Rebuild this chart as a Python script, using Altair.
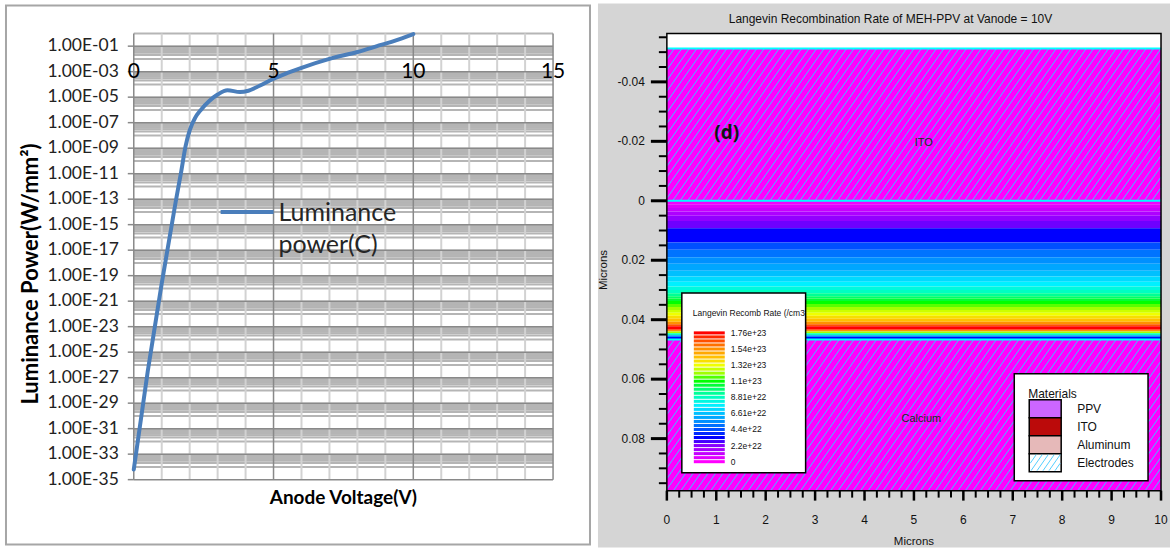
import altair as alt
import numpy as np
import pandas as pd

# ================= LEFT PANEL DATA =================
anode_voltage = [0.0, 0.5, 1.0, 1.5, 1.7, 1.85, 2.0, 2.2, 2.4, 2.7, 3.0, 3.35, 3.8, 4.1,
                 4.5, 5.0, 5.5, 6.0, 7.0, 8.0, 8.7, 9.3, 10.0]
luminance_power = [6.3e-35, 3.2e-27, 2.5e-20, 6.3e-14, 1.6e-11, 1.3e-9, 2.5e-8, 2.5e-7,
                   1.0e-6, 5.0e-6, 1.6e-5, 3.5e-5, 2.5e-5, 3.2e-5, 7.9e-5, 2.8e-4, 7.9e-4,
                   2.0e-3, 1.0e-2, 3.5e-2, 1.0e-1, 2.5e-1, 8.9e-1]
series_label_1 = "Luminance"
series_label_2 = "power(C)"
x_label_values = [0, 5, 10, 15]
x_label_texts = ["0", "5", "10", "15"]
y_major_values = [10.0 ** e for e in range(-1, -36, -2)]
y_label_texts = ["1.00E-%02d" % e for e in range(1, 36, 2)]
y_minor_values = [m * 10.0 ** e for e in range(-35, 0, 2) for m in range(10, 100, 10)
                  if m * 10.0 ** e <= 1.0000001]
x_minor_grid = [v for v in range(0, 16) if v % 5 != 0]
x_major_grid = [0, 5, 10, 15]
left_y_title = "Luminance Power(W/mm²)"
left_x_title = "Anode Voltage(V)"

# ================= RIGHT PANEL DATA =================
ppv_band_top = [0.0000, 0.0012, 0.0024, 0.0036, 0.0050, 0.0068, 0.0092, 0.0140, 0.0165,
                0.0190, 0.0212, 0.0235, 0.0255, 0.0272, 0.0288, 0.0300, 0.0311, 0.0321,
                0.0329, 0.0337, 0.0347, 0.0357, 0.0367, 0.0377, 0.0387, 0.0397, 0.0407,
                0.0415, 0.0422, 0.0434, 0.0440, 0.0446, 0.0452, 0.0458]
ppv_band_rate = [0.2e22, 0.6e22, 1.0e22, 1.5e22, 2.0e22, 2.4e22, 3.3e22, 4.4e22, 5.0e22,
                 5.5e22, 6.0e22, 6.6e22, 7.2e22, 7.7e22, 8.3e22, 8.8e22, 9.4e22, 1.0e23,
                 1.05e23, 1.1e23, 1.16e23, 1.21e23, 1.27e23, 1.32e23, 1.38e23, 1.43e23,
                 1.54e23, 1.65e23, 1.76e23, 1.54e23, 1.21e23, 8.8e22, 5.5e22, 3.3e22]
ppv_bottom = 0.0467
electrode_names = ["ITO", "Calcium"]
electrode_top = [-0.0512, 0.0467]
electrode_bottom = [0.0, 0.0975]
boundary_lines = [-0.0512, 0.0, 0.0467]

rate_stops = [0, 1.1e22, 2.2e22, 3.3e22, 4.4e22, 5.5e22, 6.61e22, 7.7e22, 8.81e22, 9.9e22,
              1.1e23, 1.21e23, 1.32e23, 1.43e23, 1.54e23, 1.65e23, 1.76e23]
rate_colors = ["#ff00ff", "#c400ff", "#8800ff", "#0000ff", "#0050ff", "#0090ff", "#00c0ff",
               "#00f0ff", "#00ffc0", "#00ff70", "#00ff00", "#a0ff00", "#f0ff00", "#ffc000",
               "#ff9000", "#ff5000", "#ff0000"]
cb_label_values = [1.76e23, 1.54e23, 1.32e23, 1.1e23, 8.81e22, 6.61e22, 4.4e22, 2.2e22, 0]
cb_label_texts = ["1.76e+23", "1.54e+23", "1.32e+23", "1.1e+23", "8.81e+22", "6.61e+22",
                  "4.4e+22", "2.2e+22", "0"]
material_names = ["PPV", "ITO", "Aluminum", "Electrodes"]
material_colors = ["#cc66ff", "#bb0a0a", "#e6b9b9", "#ffffff"]
ann_texts = ["ITO", "Calcium"]
ann_x = [5.2, 5.15]
ann_y = [-0.0195, 0.0735]
y_major_right = [-0.04, -0.02, 0, 0.02, 0.04, 0.06, 0.08]
y_major_right_texts = ["-0.04", "-0.02", "0", "0.02", "0.04", "0.06", "0.08"]
x_major_right = list(range(0, 11))
x_major_right_texts = [str(v) for v in x_major_right]
right_title = "Langevin Recombination Rate of MEH-PPV at Vanode = 10V"

# ================= LAYOUT CONSTANTS =================
LW, LH = 420, 447
RW, RH = 495, 458
Y_DOM = [-0.0563, 0.0975]
PXX = RW / 10.0
PXY = RH / (Y_DOM[1] - Y_DOM[0])
one = pd.DataFrame({"k": [0]})
LF = "Lato"
RF = "Liberation Sans"

# ================= LEFT CHART =================
LXs = alt.Scale(domain=[0, 15], nice=False, zero=False)
LYs = alt.Scale(type="log", domain=[1e-35, 1.0], nice=False)

l_frame = alt.Chart(one).mark_rect(fill="white", stroke="#a6a6a6", strokeWidth=2).encode(
    x=alt.value(-128), x2=alt.value(457), y=alt.value(-28), y2=alt.value(512))
l_pad = alt.Chart(one).mark_rect(opacity=0).encode(
    x=alt.value(-100), x2=alt.value(-95), y=alt.value(-30), y2=alt.value(-29))
h_minor = alt.Chart(pd.DataFrame({"v": y_minor_values})).mark_rule(
    color="#b5b5b5", strokeWidth=2).encode(y=alt.Y("v:Q", scale=LYs, axis=None))
v_minor = alt.Chart(pd.DataFrame({"v": x_minor_grid})).mark_rule(
    color="#d2d2d2", strokeWidth=2).encode(x=alt.X("v:Q", scale=LXs, axis=None))
h_major = alt.Chart(pd.DataFrame({"v": y_major_values})).mark_rule(
    color="#898989", strokeWidth=1.5).encode(y=alt.Y("v:Q", scale=LYs, axis=None))
v_major = alt.Chart(pd.DataFrame({"v": x_major_grid})).mark_rule(
    color="#898989", strokeWidth=1.5).encode(x=alt.X("v:Q", scale=LXs, axis=None))
ly_ticks = alt.Chart(pd.DataFrame({"v": y_major_values})).mark_rule(
    color="#898989", strokeWidth=1.5).encode(
    y=alt.Y("v:Q", scale=LYs, axis=None), x=alt.value(-6), x2=alt.value(0))
ly_labels = alt.Chart(pd.DataFrame({"v": y_major_values, "t": y_label_texts})).mark_text(
    font=LF, fontSize=17.5, color="#222222", align="right", baseline="middle").encode(
    y=alt.Y("v:Q", scale=LYs, axis=None), x=alt.value(-15), text="t:N")
ly_title = alt.Chart(one).mark_text(font=LF, fontSize=22, fontWeight="bold", color="black",
                                    angle=270, baseline="middle", text=left_y_title).encode(
    x=alt.value(-103), y=alt.value(241))
lx_title = alt.Chart(one).mark_text(font=LF, fontSize=19, fontWeight="bold", color="black",
                                    baseline="middle", text=left_x_title).encode(
    x=alt.value(LW / 2), y=alt.value(LH + 18))
lum_line = alt.Chart(pd.DataFrame({"V": anode_voltage, "P": luminance_power})).mark_line(
    color="#4a7ebb", strokeWidth=4, interpolate="monotone", strokeCap="round").encode(
    x=alt.X("V:Q", scale=LXs, axis=None), y=alt.Y("P:Q", scale=LYs, axis=None))
x_labels = alt.Chart(pd.DataFrame({"v": x_label_values, "t": x_label_texts})).mark_text(
    font=LF, fontSize=21, color="black", baseline="middle", align="center").encode(
    x=alt.X("v:Q", scale=LXs, axis=None),
    y=alt.YDatum(1e-3, type="quantitative", axis=None), text="t:N")
leg_line = alt.Chart(one).mark_rule(color="#4a7ebb", strokeWidth=4).encode(
    x=alt.value(87), x2=alt.value(140), y=alt.value(179))
leg_t1 = alt.Chart(one).mark_text(font=LF, fontSize=25, color="#262626", align="left",
                                  baseline="middle", text=series_label_1).encode(
    x=alt.value(145), y=alt.value(180))
leg_t2 = alt.Chart(one).mark_text(font=LF, fontSize=25, color="#262626", align="left",
                                  baseline="middle", text=series_label_2).encode(
    x=alt.value(145), y=alt.value(212))

left = alt.layer(l_frame, l_pad, h_minor, v_minor, h_major, v_major, ly_ticks, ly_labels,
                 ly_title, lx_title, lum_line, x_labels, leg_line, leg_t1, leg_t2
                 ).properties(width=LW, height=LH)

# ================= RIGHT CHART =================
RXs = alt.Scale(domain=[0, 10], nice=False, zero=False)
RYs = alt.Scale(domain=Y_DOM, reverse=True, nice=False, zero=False)
RATE = alt.Scale(domain=rate_stops, range=rate_colors, interpolate="rgb")

r_bg = alt.Chart(one).mark_rect(fill="#d5d5d5").encode(
    x=alt.value(-69), x2=alt.value(504), y=alt.value(-30), y2=alt.value(515))
r_white = alt.Chart(one).mark_rect(fill="white").encode(
    x=alt.value(0), x2=alt.value(RW), y=alt.value(0), y2=alt.value(RH))
regions = alt.Chart(pd.DataFrame({"n": electrode_names, "t": electrode_top,
                                  "b": electrode_bottom})).mark_rect(fill="#ff00ff").encode(
    x=alt.value(0), x2=alt.value(RW), y=alt.Y("t:Q", scale=RYs, axis=None), y2="b:Q")
band_bottom = ppv_band_top[1:] + [ppv_bottom]
bands = alt.Chart(pd.DataFrame({"t": ppv_band_top, "b": band_bottom,
                                "rate": ppv_band_rate})).mark_rect().encode(
    x=alt.value(0), x2=alt.value(RW), y=alt.Y("t:Q", scale=RYs, axis=None), y2="b:Q",
    color=alt.Color("rate:Q", scale=RATE, legend=None))


def hatch_segments(y_bottom, y_top, step_px=7.5, slope=0.7):
    h_px = (y_bottom - y_top) * PXY
    run = h_px * slope / PXX
    step = step_px / PXX
    segs = []
    x0 = -run
    while x0 < 10:
        xa, ya, xb, yb = x0, y_bottom, x0 + run, y_top
        if xa < 0:
            t = -x0 / run
            xa, ya = 0.0, y_bottom + t * (y_top - y_bottom)
        if xb > 10:
            t = (10 - x0) / run
            xb, yb = 10.0, y_bottom + t * (y_top - y_bottom)
        segs.append((xa, ya, xb, yb))
        x0 += step
    return segs


hs = []
for top, bot in zip(electrode_top, electrode_bottom):
    hs += hatch_segments(bot, top)
hatch = alt.Chart(pd.DataFrame(hs, columns=["x", "y", "x2", "y2"])).mark_rule(
    color="#3cc4ff", strokeWidth=1).encode(
    x=alt.X("x:Q", scale=RXs, axis=None), y=alt.Y("y:Q", scale=RYs, axis=None),
    x2="x2:Q", y2="y2:Q")
bounds = alt.Chart(pd.DataFrame({"b": boundary_lines})).mark_rule(
    color="#00ffff", strokeWidth=2).encode(y=alt.Y("b:Q", scale=RYs, axis=None))
ann = alt.Chart(pd.DataFrame({"t": ann_texts, "x": ann_x, "y": ann_y})).mark_text(
    font=RF, fontSize=11, color="#222222").encode(
    x=alt.X("x:Q", scale=RXs, axis=None), y=alt.Y("y:Q", scale=RYs, axis=None), text="t:N")
d_label = alt.Chart(one).mark_text(font="Open Sans", fontSize=19, fontWeight="bold",
                                   color="#111111", text="(d)").encode(
    x=alt.value(60), y=alt.value(100))
r_title = alt.Chart(one).mark_text(font=RF, fontSize=12, color="#111111",
                                   text=right_title).encode(x=alt.value(224), y=alt.value(-14))
y_minor_ticks = [round(-0.055 + 0.005 * i, 4) for i in range(31)
                 if abs(round((-0.055 + 0.005 * i) / 0.02) * 0.02 - (-0.055 + 0.005 * i)) > 1e-6]
x_minor_ticks = [i * 0.25 for i in range(41) if i % 4 != 0]
ymt = alt.Chart(pd.DataFrame({"v": y_minor_ticks})).mark_rule(color="black", strokeWidth=2).encode(
    y=alt.Y("v:Q", scale=RYs, axis=None), x=alt.value(-8), x2=alt.value(0))
xmt = alt.Chart(pd.DataFrame({"v": x_minor_ticks})).mark_rule(color="black", strokeWidth=2).encode(
    x=alt.X("v:Q", scale=RXs, axis=None), y=alt.value(RH), y2=alt.value(RH + 7))
yMt = alt.Chart(pd.DataFrame({"v": y_major_right})).mark_rule(color="black", strokeWidth=3).encode(
    y=alt.Y("v:Q", scale=RYs, axis=None), x=alt.value(-16), x2=alt.value(0))
xMt = alt.Chart(pd.DataFrame({"v": x_major_right})).mark_rule(color="black", strokeWidth=2.5).encode(
    x=alt.X("v:Q", scale=RXs, axis=None), y=alt.value(RH), y2=alt.value(RH + 10))
ry_labels = alt.Chart(pd.DataFrame({"v": y_major_right, "t": y_major_right_texts})).mark_text(
    font=RF, fontSize=12, color="#111111", align="right", baseline="middle").encode(
    y=alt.Y("v:Q", scale=RYs, axis=None), x=alt.value(-22), text="t:N")
rx_labels = alt.Chart(pd.DataFrame({"v": x_major_right, "t": x_major_right_texts})).mark_text(
    font=RF, fontSize=12, color="#111111", align="center", baseline="middle").encode(
    x=alt.X("v:Q", scale=RXs, axis=None), y=alt.value(487), text="t:N")
ry_title = alt.Chart(one).mark_text(font=RF, fontSize=11.5, color="#111111", angle=270,
                                    baseline="middle", text="Microns").encode(
    x=alt.value(-63), y=alt.value(237))
rx_title = alt.Chart(one).mark_text(font=RF, fontSize=11.5, color="#111111",
                                    baseline="middle", text="Microns").encode(
    x=alt.value(RW / 2), y=alt.value(509))
r_frame = alt.Chart(one).mark_rect(fillOpacity=0, stroke="black", strokeWidth=1.5).encode(
    x=alt.value(0), x2=alt.value(RW), y=alt.value(0), y2=alt.value(RH))

right_main = alt.layer(r_bg, r_white, regions, bands, hatch, bounds, ann, d_label, r_title,
                       ymt, xmt, yMt, xMt, ry_labels, rx_labels, ry_title, rx_title, r_frame)

# ---- colour bar legend ----
LEG = alt.Scale(domain=[0, 1.76e23], range=[429, 300], nice=False, zero=False)
stripe_levels = np.linspace(0, 1.76e23, 33)
step = stripe_levels[1] - stripe_levels[0]
cb_df = pd.DataFrame({"lvl": stripe_levels, "lo": stripe_levels - 0.38 * step,
                      "hi": stripe_levels + 0.38 * step})
cb_box = alt.Chart(one).mark_rect(fill="white", stroke="black", strokeWidth=1.5).encode(
    x=alt.value(15), x2=alt.value(139), y=alt.value(260), y2=alt.value(440))
cb_title = alt.Chart(one).mark_text(font=RF, fontSize=8.5, color="#111111", align="left",
                                    text="Langevin Recomb Rate (/cm3").encode(
    x=alt.value(26), y=alt.value(280))
cb_stripes = alt.Chart(cb_df).mark_rect().encode(
    x=alt.value(27), x2=alt.value(58), y=alt.Y("lo:Q", scale=LEG, axis=None), y2="hi:Q",
    color=alt.Color("lvl:Q", scale=RATE, legend=None))
cb_labels = alt.Chart(pd.DataFrame({"v": cb_label_values, "t": cb_label_texts})).mark_text(
    font=RF, fontSize=8.5, color="#111111", align="left").encode(
    x=alt.value(64), y=alt.Y("v:Q", scale=LEG, axis=None), text="t:N")
colorbar = alt.layer(cb_box, cb_title, cb_stripes, cb_labels)

# ---- materials legend ----
MB = alt.Scale(domain=material_names, range=[367, 439], paddingInner=0, paddingOuter=0)
mat_df = pd.DataFrame({"name": material_names, "color": material_colors})
mat_box = alt.Chart(one).mark_rect(fill="white", stroke="black", strokeWidth=1.5).encode(
    x=alt.value(348), x2=alt.value(482), y=alt.value(341), y2=alt.value(448))
mat_title = alt.Chart(one).mark_text(font=RF, fontSize=12, color="#111111", align="left",
                                     text="Materials").encode(x=alt.value(362), y=alt.value(361))
mat_sw = alt.Chart(mat_df).mark_rect(stroke="black", strokeWidth=1.5).encode(
    x=alt.value(363), x2=alt.value(395), y=alt.Y("name:N", scale=MB, axis=None),
    fill=alt.Fill("color:N", scale=None))
mat_lbl = alt.Chart(mat_df).mark_text(font=RF, fontSize=12, color="#111111", align="left").encode(
    x=alt.value(411), y=alt.Y("name:N", scale=MB, axis=None), text="name:N")
elec_layers = []
sx0, sx1, sy0, sy1 = 364.0, 394.0, 422.0, 438.0
run = (sy1 - sy0) * 0.7
s = sx0 - run
while s < sx1:
    xa, ya, xb, yb = s, sy1, s + run, sy0
    if xa < sx0:
        t = (sx0 - s) / run
        xa, ya = sx0, sy1 - t * (sy1 - sy0)
    if xb > sx1:
        t = (sx1 - s) / run
        xb, yb = sx1, sy1 - t * (sy1 - sy0)
    elec_layers.append(alt.Chart(one).mark_rule(color="#40c8ff", strokeWidth=0.9).encode(
        x=alt.value(float(xa)), y=alt.value(float(ya)), x2=alt.value(float(xb)),
        y2=alt.value(float(yb))))
    s += 6
materials = alt.layer(mat_box, mat_title, mat_sw, *elec_layers, mat_lbl)

right = alt.layer(right_main, colorbar, materials).resolve_scale(y="independent").properties(
    width=RW, height=RH)

chart = alt.hconcat(left, right, spacing=7).properties(
    padding={"left": 5, "top": 3, "right": 0, "bottom": 0}, background="white"
).configure_view(strokeOpacity=0)

chart.save("out.html", embed_options={"renderer": "svg", "actions": False})
